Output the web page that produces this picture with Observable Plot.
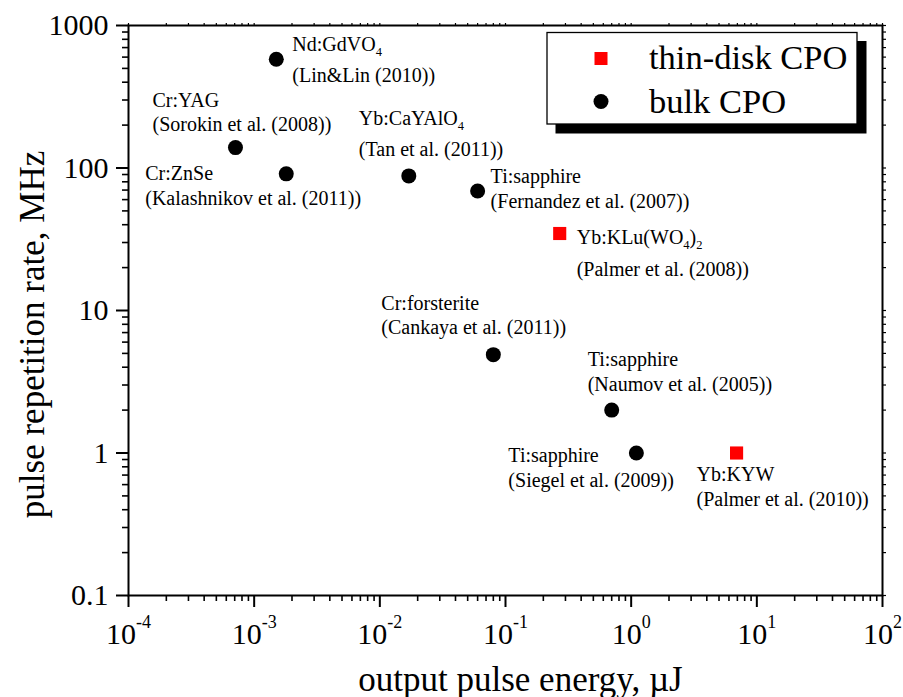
<!DOCTYPE html>
<html><head><meta charset="utf-8">
<script src="https://cdn.jsdelivr.net/npm/d3@7"></script>
<script src="https://cdn.jsdelivr.net/npm/@observablehq/plot@0.6"></script>
<style>
body{margin:0;background:#fff;}
#wrap{position:relative;width:903px;height:697px;overflow:hidden;}
#wrap svg, #wrap svg text{font-family:"Liberation Serif","Times New Roman",serif;}
</style></head><body><div id="wrap"></div>
<script>
// ---- data ----
const materials = ["Nd:GdVO_4","Cr:YAG","Cr:ZnSe","Yb:CaYAlO_4","Ti:sapphire","Yb:KLu(WO_4)_2","Cr:forsterite","Ti:sapphire","Ti:sapphire","Yb:KYW"];
const references = ["(Lin&Lin (2010))","(Sorokin et al. (2008))","(Kalashnikov et al. (2011))","(Tan et al. (2011))","(Fernandez et al. (2007))","(Palmer et al. (2008))","(Cankaya et al. (2011))","(Naumov et al. (2005))","(Siegel et al. (2009))","(Palmer et al. (2010))"];
const energy = [0.0015, 0.00071, 0.0018, 0.017, 0.060, 0.27, 0.080, 0.70, 1.1, 6.9];   // µJ
const repRate = [580, 139, 91, 88, 69, 34.7, 4.9, 2.0, 1.0, 1.0];                     // MHz
const cavity = ["bulk","bulk","bulk","bulk","bulk","thin","bulk","bulk","bulk","thin"];
const legendLabels = ["thin-disk CPO","bulk CPO"];
const yTicks = [0.1, 1, 10, 100, 1000];
const yTickLabels = ["0.1","1","10","100","1000"];
const xTicks = [1e-4, 1e-3, 1e-2, 1e-1, 1e0, 1e1, 1e2];
const xExponents = ["-4","-3","-2","-1","0","1","2"];
const xTitle = "output pulse energy, \u00b5J";
const yTitle = "pulse repetition rate, MHz";

// label placement (pixel offsets from each point: dx, baseline dy line 1, baseline dy line 2)
const labelOffsets = [[16,-8,23],[-83,-41,-17],[-141,6,31],[-50,-51,-20],[13,-8,17],[17,10,42],[-112,-45,-21],[-24,-44,-19],[-128,9,34],[-40,28,53]];

const data = materials.map((m, i) => ({material: m, ref: references[i], energy: energy[i], rate: repRate[i], type: cavity[i]}));
const xMinor = d3.range(-4, 2).flatMap(e => d3.range(2, 10).map(k => k * Math.pow(10, e)));
const yMinor = d3.range(-1, 3).flatMap(e => d3.range(2, 10).map(k => k * Math.pow(10, e)));

const FONT = 'Liberation Serif, Times New Roman, serif';

const labelMarks = data.flatMap((d, i) => {
  const [dx, dy1, dy2] = labelOffsets[i];
  return [
    Plot.text([d], {x: "energy", y: "rate", text: "material", dx, dy: dy1, textAnchor: "start", lineAnchor: "bottom", fontSize: 20, fontFamily: FONT, fill: "#000"}),
    Plot.text([d], {x: "energy", y: "rate", text: "ref", dx, dy: dy2, textAnchor: "start", lineAnchor: "bottom", fontSize: 20, fontFamily: FONT, fill: "#000"})
  ];
});

const chart = Plot.plot({
  width: 903, height: 697,
  marginLeft: 128, marginRight: 21, marginTop: 25, marginBottom: 102,
  style: {fontFamily: FONT, background: "#fff", color: "#000", overflow: "visible"},
  x: {type: "log", domain: [1e-4, 1e2]},
  y: {type: "log", domain: [0.1, 1000]},
  marks: [
    Plot.axisY(yMinor, {tickSize: 6, tickFormat: () => "", strokeWidth: 1.6, label: null}),
    Plot.axisY(yTicks, {tickSize: 12, tickPadding: 8, fontSize: 30, fontFamily: FONT, strokeWidth: 2, label: null,
      tickFormat: d => yTickLabels[yTicks.indexOf(d)]}),
    Plot.axisY(yMinor.concat(yTicks), {anchor: "right", tickSize: 3, tickFormat: () => "", strokeWidth: 1.2, label: null}),
    Plot.axisX(xMinor, {tickSize: 6, tickFormat: () => "", strokeWidth: 1.6, label: null}),
    Plot.axisX(xTicks, {tickSize: 12, tickPadding: 15, fontSize: 30, fontFamily: FONT, strokeWidth: 2, label: null,
      tickFormat: d => "10^" + xExponents[xTicks.indexOf(d)]}),
    Plot.axisX(xMinor.concat(xTicks), {anchor: "top", tickSize: 3, tickFormat: () => "", strokeWidth: 1.2, label: null}),
    Plot.frame({stroke: "#000", strokeWidth: 2}),
    Plot.text([xTitle], {frameAnchor: "bottom", textAnchor: "middle", dx: 15, dy: 95, lineAnchor: "bottom", fontSize: 35, fontFamily: FONT, fill: "#000"}),
    Plot.text([yTitle], {frameAnchor: "left", textAnchor: "middle", rotate: -90, dx: -85, dy: 24, lineAnchor: "bottom", fontSize: 35, fontFamily: FONT, fill: "#000"}),
    Plot.dot(data.filter(d => d.type === "bulk"), {x: "energy", y: "rate", r: 7.5, fill: "#000", symbol: "circle"}),
    Plot.dot(data.filter(d => d.type === "thin"), {x: "energy", y: "rate", r: 7.4, fill: "#ff0000", symbol: "square"}),
    ...labelMarks
  ]
});

const svg = d3.select(chart);

// superscript exponents on x tick labels
svg.selectAll('g[aria-label="x-axis tick label"] text').each(function () {
  const t = this.textContent;
  if (!t.includes("^")) return;
  const [base, exp] = t.split("^");
  this.textContent = "";
  const s = d3.select(this);
  s.append("tspan").text(base);
  s.append("tspan").attr("dy", -16).attr("font-size", 18).text(exp);
});

// subscripts in material names
svg.selectAll("text").each(function () {
  if (this.querySelector("tspan")) return;
  const t = this.textContent;
  if (!t || !t.includes("_")) return;
  const parts = t.split(/_(\d)/);
  this.textContent = "";
  const s = d3.select(this);
  let shifted = false;
  parts.forEach((p, k) => {
    if (!p) return;
    if (k % 2 === 1) {
      s.append("tspan").attr("dy", shifted ? 0 : 5).attr("font-size", 12.5).text(p);
      shifted = true;
    } else {
      s.append("tspan").attr("dy", shifted ? -5 : 0).text(p);
      shifted = false;
    }
  });
});

// legend box (inside the plot frame, with drop shadow)
const lg = svg.append("g").style("font-family", FONT).attr("text-anchor", "start");
lg.append("rect").attr("x", 555.5).attr("y", 41).attr("width", 311).attr("height", 92.5).attr("fill", "#000");
lg.append("rect").attr("x", 547).attr("y", 32.5).attr("width", 310).attr("height", 91.5).attr("fill", "#fff").attr("stroke", "#000").attr("stroke-width", 1.3);
lg.append("rect").attr("x", 594.5).attr("y", 52).attr("width", 13).attr("height", 13).attr("fill", "#ff0000");
lg.append("circle").attr("cx", 601).attr("cy", 101.5).attr("r", 7.5).attr("fill", "#000");
lg.append("text").attr("x", 649).attr("y", 69).attr("font-size", 34.5).attr("text-anchor", "start").attr("fill", "#000").text(legendLabels[0]);
lg.append("text").attr("x", 649).attr("y", 112.5).attr("font-size", 34.5).attr("text-anchor", "start").attr("fill", "#000").text(legendLabels[1]);

document.getElementById("wrap").appendChild(chart);
</script>
</body></html>
